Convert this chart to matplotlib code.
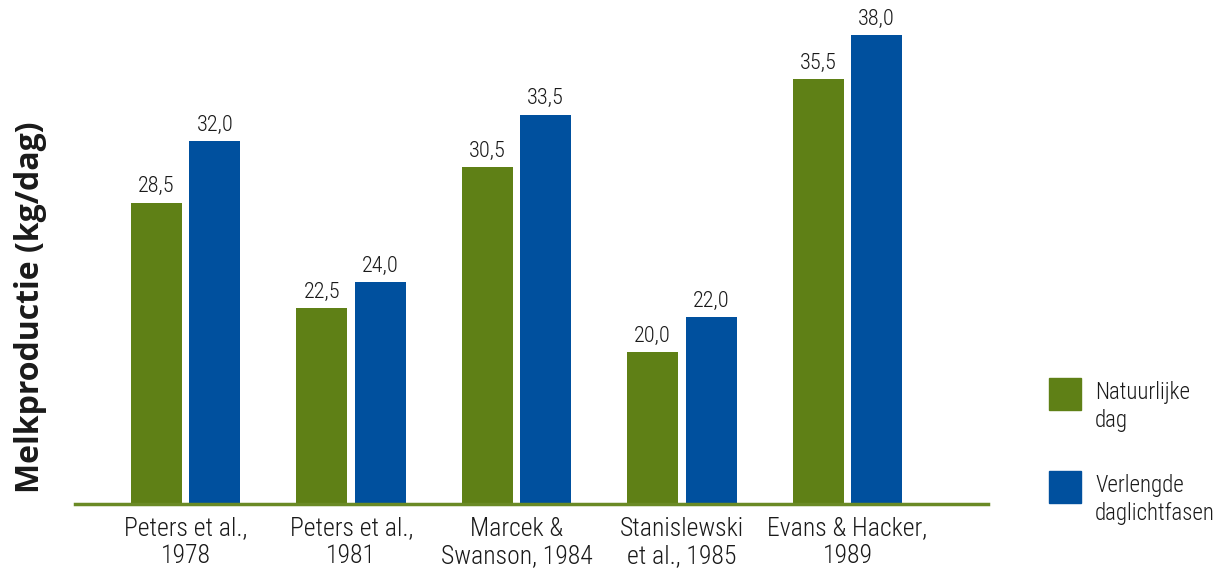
import numpy as np
import matplotlib
matplotlib.use("Agg")
import matplotlib.pyplot as plt
from matplotlib.patches import Rectangle

plt.rcParams['font.family'] = ['Roboto Condensed', 'Roboto', 'DejaVu Sans']

studies = ["Peters et al.,\n1978", "Peters et al.,\n1981", "Marcek &\nSwanson, 1984",
           "Stanislewski\net al., 1985", "Evans & Hacker,\n1989"]
natuurlijk = [28.5, 22.5, 30.5, 20.0, 35.5]
verlengd = [32.0, 24.0, 33.5, 22.0, 38.0]
series_names = ["Natuurlijke\ndag", "Verlengde\ndaglichtfasen"]

green = "#5f8016"
blue = "#00509e"
txt = "#1a1a1a"

fig = plt.figure(figsize=(12.22, 5.83), dpi=100)
ax = fig.add_axes([0.0614, 0.1355, 0.7471, 0.8645])

x = np.arange(len(studies))
w = 0.308
b1 = ax.bar(x - 0.177, natuurlijk, w, color=green)
b2 = ax.bar(x + 0.176, verlengd, w, color=blue)

for bars, vals in ((b1, natuurlijk), (b2, verlengd)):
    for r, v in zip(bars, vals):
        ax.text(r.get_x() + r.get_width() / 2, v + 0.3, f"{v:.1f}".replace(".", ","),
                ha="center", va="bottom", fontsize=16, color=txt, fontweight="light")

ax.set_ylim(11.4, 40)
ax.set_xlim(-0.67, 4.85)
ax.set_xticks(x)
ax.set_xticklabels(studies, fontsize=18.5, color=txt, linespacing=1.2, fontweight="light")
ax.tick_params(axis="x", length=0, pad=9)
ax.set_yticks([])
for s in ("top", "right", "left"):
    ax.spines[s].set_visible(False)
ax.spines["bottom"].set_color("#6a8a25")
ax.spines["bottom"].set_linewidth(2.5)

fig.text(0.025, 0.473, "Melkproductie (kg/dag)", rotation=90, ha="center", va="center",
         fontsize=23, fontweight="bold", color=txt, family=["Open Sans", "DejaVu Sans"])

# legend, drawn by hand so the squares line up with the first text line
W, H = 1222, 583
for i, (name, col) in enumerate(zip(series_names, [green, blue])):
    top = 378 + 93 * i
    fig.add_artist(Rectangle((1049 / W, 1 - (top + 32) / H), 32 / W, 32 / H,
                             color=col, transform=fig.transFigure))
    fig.text(1095 / W, 1 - (top + 3) / H, name, va="top", ha="left",
             fontsize=16.5, linespacing=1.3, color=txt, fontweight="light")

plt.savefig("out.png", dpi=100)
